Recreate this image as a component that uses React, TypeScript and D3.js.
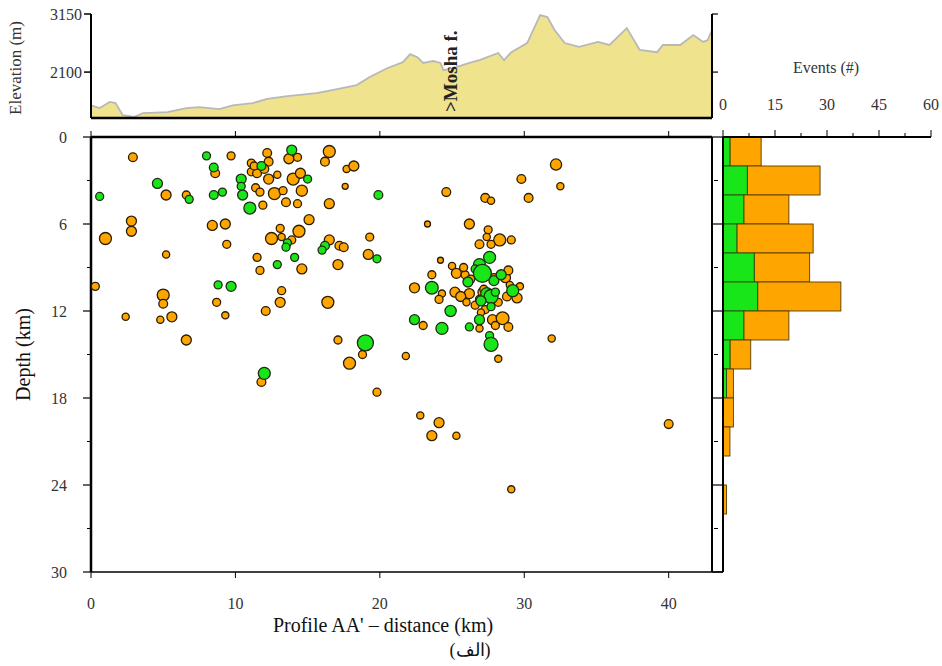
import React from 'react';
import * as d3 from 'd3';

// elevation profile along AA'
const elevDist = [0, 0.6, 1.3, 1.7, 2.2, 3.0, 3.6, 5.3, 6.6, 7.5, 8.9, 9.8, 11.2, 12.2, 13.6, 15.6, 16.7, 18.4, 19.3, 20.5, 21.6, 22.1, 22.6, 23.0, 23.7, 24.2, 24.4, 25.3, 26.2, 26.9, 28.2, 28.6, 29.1, 30.2, 31.1, 31.6, 32.1, 32.8, 33.8, 35.1, 35.9, 37.1, 38.0, 39.2, 39.6, 40.8, 41.7, 42.4, 42.7, 43.0];
const elevM = [1500, 1450, 1560, 1540, 1320, 1290, 1360, 1375, 1450, 1465, 1430, 1500, 1540, 1615, 1665, 1720, 1775, 1865, 2010, 2170, 2280, 2425, 2370, 2265, 2300, 2265, 2135, 2190, 2265, 2315, 2445, 2315, 2460, 2625, 3130, 3095, 2860, 2625, 2555, 2645, 2590, 2895, 2500, 2460, 2590, 2590, 2770, 2645, 2680, 2860];
const elevTicks = [3150, 2100];

// events: [distance km, depth km, magnitude]
const orangeEvents = [
  [2.9, 1.4, 2.2], [1.0, 7.0, 3.0], [2.8, 5.8, 2.5], [2.8, 6.5, 2.5], [5.2, 8.1, 1.8], [5.2, 4.0, 2.5],
  [6.6, 4.0, 2.0], [9.7, 1.3, 2.0], [8.6, 2.5, 2.2], [8.4, 6.1, 2.5], [9.3, 6.0, 2.5], [9.4, 7.4, 2.0],
  [11.1, 1.8, 2.0], [11.1, 2.4, 2.0], [11.5, 2.5, 2.2], [12.2, 1.1, 2.2], [12.3, 1.7, 2.2], [11.4, 3.5, 2.0],
  [11.7, 3.8, 2.0], [11.9, 4.7, 2.0], [12.3, 2.9, 2.5], [12.9, 2.6, 1.8], [12.7, 3.9, 3.0], [13.3, 3.7, 2.0],
  [13.5, 4.5, 2.2], [14.3, 4.6, 2.0], [13.7, 1.5, 2.5], [14.3, 1.4, 2.0], [14.0, 2.9, 3.0], [14.5, 2.5, 2.5],
  [14.6, 3.7, 2.8], [15.1, 5.7, 2.5], [13.1, 6.3, 2.0], [12.5, 7.0, 3.0], [13.2, 6.9, 1.8], [13.9, 7.1, 2.0],
  [14.4, 6.5, 3.0], [11.5, 8.3, 2.0], [11.7, 9.2, 2.0], [14.6, 9.1, 2.5], [16.5, 1.0, 3.0], [16.2, 1.7, 2.2],
  [17.7, 2.2, 1.8], [18.2, 2.0, 2.5], [17.6, 3.4, 1.5], [16.5, 4.6, 2.5], [24.6, 3.8, 2.2], [27.3, 4.2, 2.2],
  [27.7, 4.4, 1.8], [29.8, 2.9, 2.2], [32.2, 1.9, 2.8], [32.5, 3.4, 1.8], [30.3, 4.2, 2.2], [23.3, 6.0, 1.5],
  [26.2, 6.0, 2.5], [16.5, 7.1, 2.5], [17.2, 7.5, 2.2], [17.5, 7.6, 2.2], [19.3, 6.9, 2.0], [19.2, 8.1, 2.5],
  [17.1, 8.8, 2.5], [27.5, 6.4, 2.0], [27.4, 6.9, 1.8], [28.3, 7.1, 3.0], [29.1, 7.1, 2.0], [26.9, 7.4, 2.2],
  [27.7, 7.4, 2.0], [25.0, 8.9, 1.8], [25.3, 9.4, 2.5], [23.6, 9.5, 2.0], [25.9, 9.5, 2.0], [28.7, 9.7, 2.5],
  [22.4, 10.4, 2.5], [26.2, 10.8, 2.5], [25.2, 10.7, 2.5], [25.6, 11.0, 2.5], [24.3, 10.8, 1.8], [24.1, 11.2, 2.0],
  [26.0, 11.4, 1.8], [27.1, 10.7, 2.2], [26.9, 11.2, 2.0], [27.3, 11.9, 2.0], [27.0, 12.1, 1.8], [28.8, 11.0, 2.2],
  [29.5, 11.1, 2.5], [29.7, 10.3, 1.8], [23.0, 13.0, 2.0], [26.9, 13.2, 1.8], [27.8, 12.6, 2.5], [28.5, 12.5, 3.2],
  [28.9, 13.1, 2.2], [28.0, 13.0, 2.0], [28.2, 15.3, 1.8], [21.8, 15.1, 1.8], [31.9, 13.9, 1.8], [0.3, 10.3, 2.0],
  [5.0, 10.9, 3.0], [5.0, 11.5, 2.2], [2.4, 12.4, 1.8], [4.8, 12.6, 1.8], [5.6, 12.4, 2.5], [6.6, 14.0, 2.5],
  [8.7, 11.4, 2.0], [9.3, 12.3, 1.8], [12.1, 12.0, 2.2], [13.2, 10.6, 2.0], [13.1, 11.4, 2.5], [16.4, 11.4, 3.0],
  [11.8, 16.9, 2.2], [17.1, 14.0, 2.0], [18.8, 15.0, 2.0], [17.9, 15.6, 3.0], [19.8, 17.6, 2.0], [22.8, 19.2, 1.8],
  [24.1, 19.7, 2.5], [23.6, 20.6, 2.5], [25.3, 20.6, 1.8], [29.1, 24.3, 1.8], [40.0, 19.8, 2.2],
  [12.0, 2.2, 2.2], [11.3, 2.0, 2.0], [26.3, 9.8, 2.0], [28.9, 9.2, 2.2], [24.2, 8.5, 1.5], [27.9, 9.7, 2.0],
  [25.8, 9.0, 2.0], [26.6, 11.6, 2.0], [28.2, 11.4, 2.0], [27.2, 10.5, 2.0], [29.0, 10.2, 1.8],
];

const greenEvents = [
  [0.6, 4.1, 2.0], [4.6, 3.2, 2.5], [6.8, 4.3, 2.0], [8.0, 1.3, 2.0], [8.5, 2.1, 2.2], [8.5, 4.0, 2.2],
  [9.1, 3.8, 2.0], [10.4, 2.9, 2.5], [10.4, 3.4, 2.0], [10.5, 4.0, 2.5], [11.0, 4.9, 3.0], [11.8, 2.0, 2.2],
  [13.9, 0.9, 2.5], [15.0, 2.9, 2.0], [13.6, 7.3, 2.0], [13.5, 7.6, 2.0], [14.1, 8.3, 2.0], [12.9, 8.8, 2.0],
  [16.2, 7.5, 2.2], [16.0, 7.8, 2.0], [19.9, 4.0, 2.2], [19.8, 8.4, 2.0], [8.8, 10.2, 2.0], [9.7, 10.3, 2.5],
  [12.0, 16.3, 3.0], [19.0, 14.2, 4.0], [27.6, 8.3, 3.0], [26.9, 8.8, 3.0], [27.9, 9.9, 2.5], [26.6, 9.1, 2.0],
  [27.1, 9.4, 4.5], [28.4, 9.5, 2.5], [23.6, 10.4, 3.2], [26.1, 10.0, 2.5], [27.4, 10.8, 3.0], [27.7, 11.0, 3.5],
  [27.7, 11.7, 2.0], [29.2, 10.6, 3.0], [27.0, 11.3, 2.5], [28.0, 10.7, 2.0], [24.9, 12.0, 2.8], [22.4, 12.6, 2.5],
  [24.3, 13.2, 3.0], [26.9, 12.6, 2.5], [26.2, 13.1, 2.0], [27.6, 13.7, 2.0], [27.7, 14.3, 3.5],
];

// depth histogram, 2 km bins
const binTop = [0, 2, 4, 6, 8, 10, 12, 14, 16, 18, 20, 22, 24, 26, 28];
const greenCounts = [2, 7, 6, 4, 9, 10, 6, 2, 1, 0, 0, 0, 0, 0, 0];
const orangeCounts = [9, 21, 13, 22, 16, 24, 13, 6, 2, 3, 2, 0, 1, 0, 0];

const distTicks = [0, 10, 20, 30, 40];
const depthTicks = [0, 6, 12, 18, 24, 30];
const countTicks = [0, 15, 30, 45, 60];

const ORANGE = '#ffa500';
const GREEN = '#19e619';
const FONT = '"Liberation Serif", "Times New Roman", serif';

export default function App() {
  const W = 942, H = 666;
  const left = 91, right = 712, top = 137, bottom = 572;
  const eTop = 14, eBottom = 118;
  const hLeft = 723, hRight = 931;

  const x = d3.scaleLinear().domain([0, 43]).range([left, right]);
  const y = d3.scaleLinear().domain([0, 30]).range([top, bottom]);
  const yE = d3.scaleLinear().domain([1270, 3150]).range([eBottom, eTop]);
  const xH = d3.scaleLinear().domain([0, 60]).range([hLeft, hRight]);
  const r = d3.scaleLinear().domain([1, 5]).range([2, 10]);

  const profile = elevDist.map((d, i) => [d, elevM[i]] as [number, number]);
  const area = d3.area<[number, number]>().x(d => x(d[0])).y0(eBottom).y1(d => yE(d[1]));
  const line = d3.line<[number, number]>().x(d => x(d[0])).y(d => yE(d[1]));

  const minorDepth = d3.range(3, 30, 6);
  const minorCount = d3.range(7.5, 60, 15);
  const txt = '#333';

  return (
    <svg width={W} height={H} style={{ position: 'absolute', left: 0, top: 0, background: '#fff' }} fontFamily={FONT}>
      {/* elevation panel */}
      <path d={area(profile) || ''} fill="#efe38e" />
      <path d={line(profile) || ''} fill="none" stroke="#b8b8b8" strokeWidth={1.8} />
      <line x1={left} x2={left} y1={eTop} y2={eBottom} stroke="#000" strokeWidth={2} />
      <line x1={right} x2={right} y1={eTop} y2={eBottom} stroke="#000" strokeWidth={2} />
      <line x1={left} x2={right} y1={eBottom} y2={eBottom} stroke="#000" strokeWidth={2.5} />
      {elevTicks.map(t => (
        <g key={t}>
          <line x1={left - 7} x2={left} y1={yE(t)} y2={yE(t)} stroke="#000" strokeWidth={1.5} />
          <line x1={right} x2={right + 6} y1={yE(t)} y2={yE(t)} stroke="#000" strokeWidth={1.2} />
          <text x={left - 9} y={yE(t)} dy="0.35em" textAnchor="end" fontSize={16} fill={txt}>{t}</text>
        </g>
      ))}
      <text transform={`translate(21,${(eTop + eBottom) / 2 + 2}) rotate(-90)`} textAnchor="middle" fontSize={17} fill={txt}>Elevation (m)</text>
      <text transform={`translate(457,112) rotate(-90)`} fontSize={19} fontWeight="bold" fill="#222">{'>Mosha f.'}</text>

      {/* main section */}
      <line x1={left} x2={right} y1={top} y2={top} stroke="#000" strokeWidth={2.5} />
      <line x1={left} x2={left} y1={top} y2={bottom} stroke="#000" strokeWidth={2.5} />
      <line x1={left} x2={right} y1={bottom} y2={bottom} stroke="#000" strokeWidth={1.5} />
      <line x1={right} x2={right} y1={top} y2={bottom} stroke="#000" strokeWidth={2} />
      {distTicks.map(t => (
        <g key={t}>
          <line x1={x(t)} x2={x(t)} y1={top - 6} y2={top} stroke="#000" strokeWidth={1} />
          <line x1={x(t)} x2={x(t)} y1={bottom} y2={bottom + 6} stroke="#000" strokeWidth={1} />
          <text x={x(t)} y={603} dy="0.35em" textAnchor="middle" fontSize={16} fill={txt}>{t}</text>
        </g>
      ))}
      {depthTicks.map(t => (
        <g key={t}>
          <line x1={left - 8} x2={left} y1={y(t)} y2={y(t)} stroke="#000" strokeWidth={1.2} />
          <line x1={right} x2={hLeft} y1={y(t)} y2={y(t)} stroke="#000" strokeWidth={1.2} />
          <text x={left - 24} y={y(t)} dy="0.35em" textAnchor="end" fontSize={16} fill={txt}>{t}</text>
        </g>
      ))}
      {minorDepth.map(t => (
        <g key={t}>
          <line x1={left - 4} x2={left} y1={y(t)} y2={y(t)} stroke="#000" strokeWidth={1} />
          <line x1={right + 2} x2={right + 6} y1={y(t)} y2={y(t)} stroke="#000" strokeWidth={1} />
        </g>
      ))}
      <text transform={`translate(30,${(top + bottom) / 2}) rotate(-90)`} textAnchor="middle" fontSize={20} fill="#111">Depth (km)</text>
      <text x={383} y={632} textAnchor="middle" fontSize={20} fill="#111">Profile AA' – distance (km)</text>
      <text x={470} y={656} textAnchor="middle" fontSize={18} fill="#111">(الف)</text>

      {orangeEvents.map((e, i) => (
        <circle key={'o' + i} cx={x(e[0])} cy={y(e[1])} r={r(e[2])} fill={ORANGE} stroke="#2b1d05" strokeWidth={1.3} />
      ))}
      {greenEvents.map((e, i) => (
        <circle key={'g' + i} cx={x(e[0])} cy={y(e[1])} r={r(e[2])} fill={GREEN} stroke="#1f2b12" strokeWidth={1.3} />
      ))}

      {/* depth histogram */}
      {binTop.map((b, i) => {
        const g = greenCounts[i], o = orangeCounts[i];
        const y0 = y(b), h = y(b + 2) - y(b);
        return (
          <g key={b}>
            {o > 0 && <rect x={xH(g)} y={y0} width={xH(g + o) - xH(g)} height={h} fill={ORANGE} stroke="#5a3a00" strokeWidth={0.9} />}
            {g > 0 && <rect x={xH(0)} y={y0} width={xH(g) - xH(0)} height={h} fill={GREEN} stroke="#2a4a10" strokeWidth={0.9} />}
          </g>
        );
      })}
      <line x1={hLeft} x2={hLeft} y1={top} y2={bottom} stroke="#000" strokeWidth={2} />
      <line x1={right} x2={hLeft} y1={bottom} y2={bottom} stroke="#000" strokeWidth={1.5} />
      <line x1={hLeft} x2={hRight} y1={top} y2={top} stroke="#000" strokeWidth={2} />
      {countTicks.map(t => (
        <g key={t}>
          <line x1={xH(t)} x2={xH(t)} y1={top - 7} y2={top} stroke="#000" strokeWidth={1} />
          <text x={xH(t)} y={104} dy="0.35em" textAnchor="middle" fontSize={16} fill={txt}>{t}</text>
        </g>
      ))}
      {minorCount.map(t => (
        <line key={t} x1={xH(t)} x2={xH(t)} y1={top - 4} y2={top} stroke="#000" strokeWidth={1} />
      ))}
      <text x={826} y={67} dy="0.35em" textAnchor="middle" fontSize={16} fill={txt}>Events (#)</text>
    </svg>
  );
}
